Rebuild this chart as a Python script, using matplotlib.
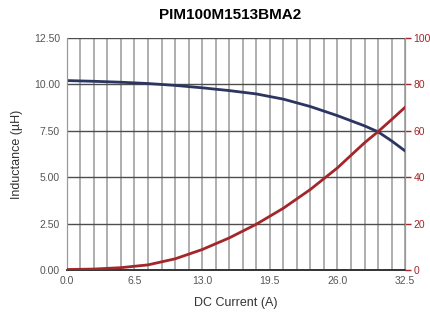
import numpy as np
import matplotlib.pyplot as plt

plt.rcParams['font.family'] = ['Liberation Sans', 'DejaVu Sans']

# データ
current = [0.0, 2.6, 5.2, 7.8, 10.4, 13.0, 15.6, 18.2, 20.8, 23.4, 26.0,
           28.6, 29.9, 31.2, 32.5]
inductance = [10.20, 10.16, 10.11, 10.04, 9.94, 9.81, 9.66, 9.48, 9.20,
              8.80, 8.31, 7.76, 7.44, 6.95, 6.41]
temp_rise = [0.2, 0.4, 1.0, 2.2, 4.8, 8.8, 13.8, 19.7, 26.6, 34.7, 44.0,
             54.8, 59.6, 64.8, 70.1]

x_ticks = [0.0, 6.5, 13.0, 19.5, 26.0, 32.5]
left_ticks = [0.0, 2.5, 5.0, 7.5, 10.0, 12.5]
right_ticks = [0, 20, 40, 60, 80, 100]

blue = "#2b3560"
red = "#a3262a"
label_grey = "#555555"

fig = plt.figure(figsize=(4.31, 3.18), dpi=100)
ax = fig.add_axes([0.155, 0.151, 0.785, 0.730])
ax2 = ax.twinx()

# グリッド
for xv in np.linspace(0, 32.5, 26):
    ax.axvline(xv, color="#999999", lw=1.1, zorder=0)
for yv in left_ticks:
    ax.axhline(yv, color="#4d4d4d", lw=1.0, zorder=0)

ax.plot(current, inductance, color=blue, lw=2.0, zorder=3,
        solid_joinstyle="round")
ax2.plot(current, temp_rise, color=red, lw=2.0, zorder=3,
         solid_joinstyle="round")

ax.set_xlim(0, 32.5)
ax.set_ylim(0, 12.5)
ax2.set_ylim(0, 100)

ax.set_xticks(x_ticks)
ax.set_xticklabels(["%.1f" % v for v in x_ticks])
ax.set_yticks(left_ticks)
ax.set_yticklabels(["%.2f" % v for v in left_ticks])
ax2.set_yticks(right_ticks)

ax.tick_params(axis="both", length=0, labelsize=7.5, colors=label_grey, pad=5)
ax.tick_params(axis="x", pad=4)
ax2.tick_params(axis="y", length=4, width=1, color=red, labelcolor=red,
                labelsize=7.5, pad=2)

for a in (ax, ax2):
    a.spines["top"].set_visible(False)
    a.spines["left"].set_color("#999999")
    a.spines["right"].set_color("#999999")
    a.spines["bottom"].set_color("#333333")
    a.spines["bottom"].set_linewidth(1.2)

ax.set_xlabel("DC Current (A)", fontsize=9, color="#333333", labelpad=8)
ax.set_ylabel("Inductance (\u00b5H)", fontsize=9, color="#333333", labelpad=8)
fig.suptitle("PIM100M1513BMA2", fontsize=11, fontweight="bold", x=0.535, y=0.975)

fig.savefig("out.png", dpi=100)
